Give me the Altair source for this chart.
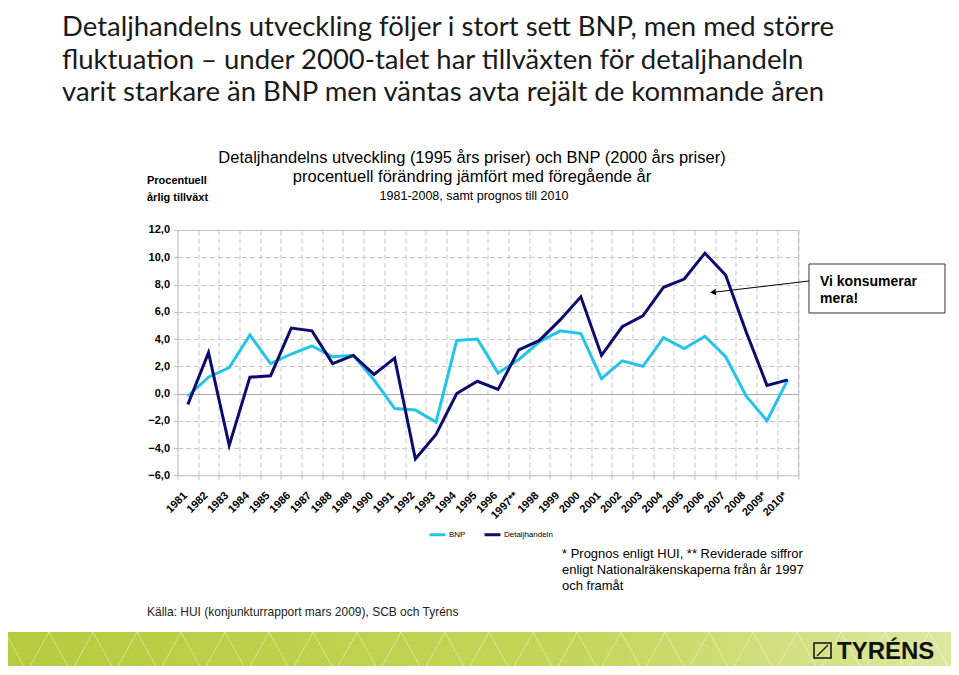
import altair as alt
import pandas as pd

years = ["1981", "1982", "1983", "1984", "1985", "1986", "1987", "1988", "1989", "1990",
         "1991", "1992", "1993", "1994", "1995", "1996", "1997**", "1998", "1999", "2000",
         "2001", "2002", "2003", "2004", "2005", "2006", "2007", "2008", "2009*", "2010*"]
bnp = [-0.2, 1.2, 1.9, 4.3, 2.2, 2.9, 3.5, 2.7, 2.8, 1.0,
       -1.1, -1.2, -2.1, 3.9, 4.0, 1.5, 2.5, 3.8, 4.6, 4.4,
       1.1, 2.4, 2.0, 4.1, 3.3, 4.2, 2.7, -0.2, -2.0, 1.0]
detalj = [-0.8, 3.0, -3.8, 1.2, 1.3, 4.8, 4.6, 2.2, 2.8, 1.4,
          2.6, -4.8, -3.0, 0.0, 0.9, 0.3, 3.2, 3.9, 5.4, 7.1,
          2.8, 4.9, 5.7, 7.8, 8.4, 10.3, 8.7, 4.5, 0.6, 1.0]
series = ["BNP", "Detaljhandeln"]
colors = ["#22c4e8", "#0c0c6e"]
y_ticks = [-6, -4, -2, 0, 2, 4, 6, 8, 10, 12]
title_lines = ["Detaljhandelns utveckling följer i stort sett BNP, men med större",
               "fluktuation – under 2000-talet har tillväxten för detaljhandeln",
               "varit starkare än BNP men väntas avta rejält de kommande åren"]

df = pd.DataFrame({
    "year": years * 2,
    "value": bnp + detalj,
    "serie": [series[0]] * len(years) + [series[1]] * len(years),
})

OX, OY = 177.5, 230  # plot origin on the page


def px(x):
    return x - OX


def py(y):
    return y - OY


one = alt.Data(values=[{}])

lines = alt.Chart(df).mark_line(strokeWidth=3).encode(
    x=alt.X("year:N", sort=years, bandPosition=0.5,
            scale=alt.Scale(type="band", paddingInner=0, paddingOuter=0),
            axis=alt.Axis(title=None, tickBand="extent", labelAngle=315,
                          labelFont="Liberation Sans", labelFontWeight="bold",
                          labelFontSize=11, labelColor="#000000", labelPadding=10,
                          labelOffset=-7,
                          tickSize=4, tickColor="#bfbfbf", domain=False,
                          grid=True, gridColor="#c8c8c8", gridDash=[5, 3])),
    y=alt.Y("value:Q", scale=alt.Scale(domain=[-6, 12], nice=False, zero=False),
            axis=alt.Axis(title=None, values=y_ticks,
                          labelExpr="replace(format(datum.value, '.1f'), '.', ',')",
                          labelFont="Liberation Sans", labelFontWeight="bold",
                          labelFontSize=11, labelColor="#000000", labelPadding=4,
                          tickSize=4, tickColor="#bfbfbf", domain=False,
                          grid=True,
                          gridColor=alt.condition("datum.value === 0", alt.value("#a8a8a8"), alt.value("#c8c8c8")),
                          gridDash=alt.condition("datum.value === 0", alt.value([]), alt.value([5, 3])))),
    color=alt.Color("serie:N", scale=alt.Scale(domain=series, range=colors),
                    legend=alt.Legend(title=None, orient="none", direction="horizontal",
                                      legendX=px(428), legendY=py(525),
                                      symbolType="stroke", symbolSize=256, symbolStrokeWidth=3,
                                      labelFont="Liberation Sans", labelFontSize=8,
                                      labelColor="#000000", columnPadding=12, labelOffset=2)),
    order=alt.Order("serie:N"),
)


def text(t, x, y, size, weight="normal", font="Liberation Sans", align="left",
         color="#000000", lh=None):
    kw = {}
    if lh is not None:
        kw["lineHeight"] = lh
    return alt.Chart(one).mark_text(
        font=font, fontSize=size, fontWeight=weight, align=align, baseline="alphabetic",
        color=color, lineBreak="\n", **kw
    ).encode(x=alt.value(px(x)), y=alt.value(py(y)), text=alt.value(t))


t1 = text(title_lines[0], 62, 36, 27.5, font="Lato", color="#1a1a1a")
t2 = text(title_lines[1], 62, 69, 27.5, font="Lato", color="#1a1a1a")
t3 = text(title_lines[2], 62, 101.5, 27.5, font="Lato", color="#1a1a1a")

h1 = text("Detaljhandelns utveckling (1995 års priser) och BNP (2000 års priser)",
          472, 163, 16.5, align="center")
h2 = text("procentuell förändring jämfört med föregående år", 472, 182, 16.5, align="center")
h3 = text("1981-2008, samt prognos till 2010", 474, 200, 12.5, align="center")
ylab = text("Procentuell\nårlig tillväxt", 147, 184, 11, weight="bold", lh=17)

note = text("* Prognos enligt HUI, ** Reviderade siffror\n"
            "enligt Nationalräkenskaperna från år 1997\n"
            "och framåt", 562, 558, 13, lh=16)
source = text("Källa: HUI (konjunkturrapport mars 2009), SCB och Tyréns", 147, 616, 12,
              color="#222222")

box = alt.Chart(one).mark_rect(fill="white", stroke="#333333", strokeWidth=1).encode(
    x=alt.value(px(809)), x2=alt.value(px(945)), y=alt.value(py(264)), y2=alt.value(py(313)))
boxtext = text("Vi konsumerar\nmera!", 820, 286, 14, weight="bold", lh=17.5)
arrow = alt.Chart(one).mark_rule(color="#000000", strokeWidth=1).encode(
    x=alt.value(px(809)), y=alt.value(py(281)), x2=alt.value(px(716)), y2=alt.value(py(292)))
head = alt.Chart(one).mark_point(shape="triangle-left", filled=True, color="#000000",
                                 size=45, angle=354, opacity=1).encode(
    x=alt.value(px(713)), y=alt.value(py(292.3)))

banner = alt.Chart(one).mark_rect(
    fill=alt.Gradient(gradient="linear", x1=0, x2=1, y1=0, y2=0,
                      stops=[alt.GradientStop(color="#b6cb3e", offset=0),
                             alt.GradientStop(color="#c4d659", offset=0.6),
                             alt.GradientStop(color="#dde8a0", offset=1)])
).encode(x=alt.value(px(5)), x2=alt.value(px(955)), y=alt.value(py(632)), y2=alt.value(py(672)))

# decorative white line pattern in the banner
pattern = []
step = 44
for k in range(22):
    x0 = 5 + k * step
    pattern.append(alt.Chart(one).mark_rule(color="white", strokeWidth=0.8, opacity=0.55).encode(
        x=alt.value(px(x0)), y=alt.value(py(632)), x2=alt.value(px(min(x0 + step / 2, 955))), y2=alt.value(py(672))))
    pattern.append(alt.Chart(one).mark_rule(color="white", strokeWidth=0.8, opacity=0.55).encode(
        x=alt.value(px(min(x0 + step / 2, 955))), y=alt.value(py(672)), x2=alt.value(px(min(x0 + step, 955))), y2=alt.value(py(632))))

logo = text("TYRÉNS", 837, 659, 24, weight="bold", color="#111111")
icon = alt.Chart(one).mark_rect(fill=None, stroke="#111111", strokeWidth=1.5).encode(
    x=alt.value(px(814)), x2=alt.value(px(831)), y=alt.value(py(643)), y2=alt.value(py(658)))
icon2 = alt.Chart(one).mark_rule(color="#111111", strokeWidth=1.2).encode(
    x=alt.value(px(817)), y=alt.value(py(656)), x2=alt.value(px(828)), y2=alt.value(py(645)))

chart = alt.layer(
    lines, t1, t2, t3, h1, h2, h3, ylab, note, source, box, boxtext, arrow, head,
    banner, *pattern, logo, icon, icon2
).properties(
    width=620.5, height=245.3,
    autosize=alt.AutoSizeParams(type="none"),
    padding={"left": 169.5, "top": 222, "right": 153, "bottom": 191},
    background="white",
).configure_view(stroke="#bfbfbf", strokeWidth=1)

chart.save("out.html", embed_options={"renderer": "svg", "actions": False})
